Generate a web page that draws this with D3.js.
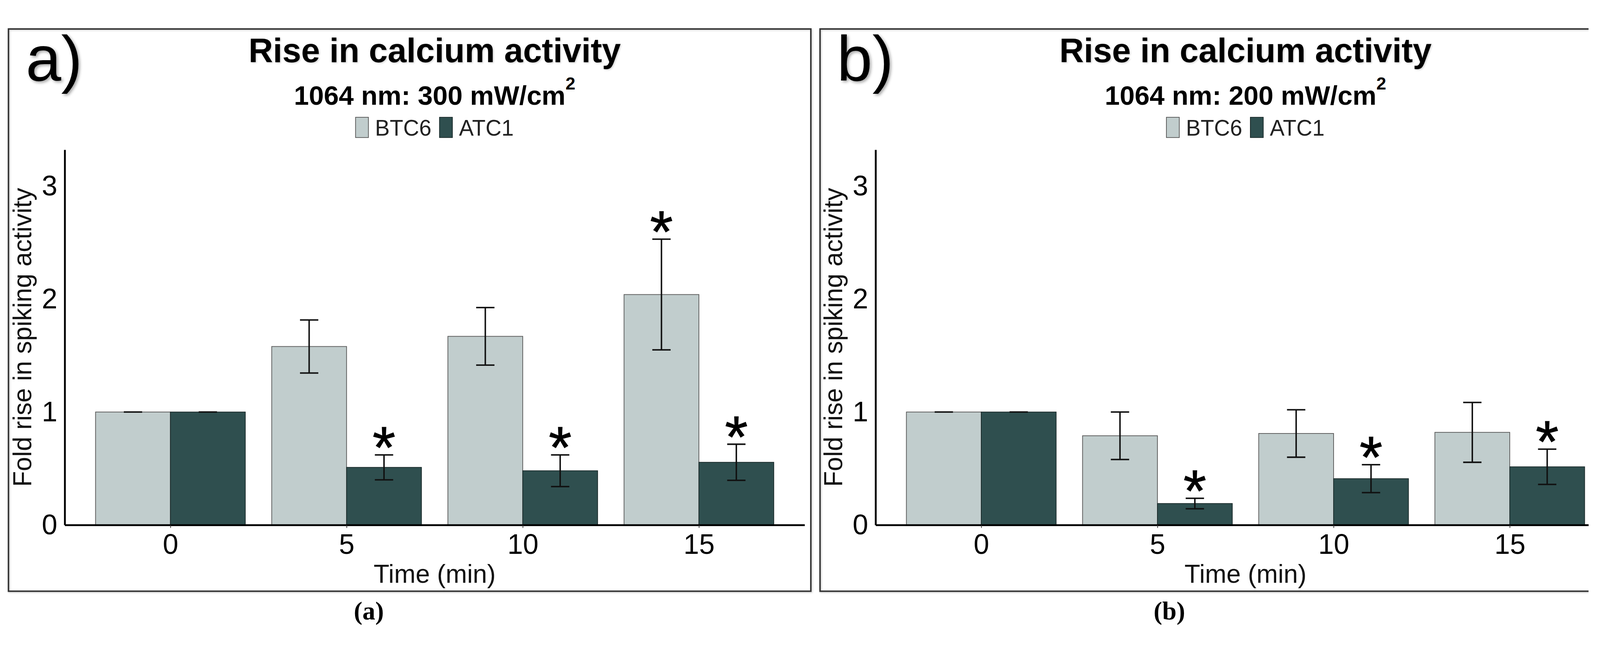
<!DOCTYPE html>
<html>
<head>
<meta charset="utf-8">
<script src="https://cdn.jsdelivr.net/npm/d3@7"></script>
<style>
  html, body { margin: 0; padding: 0; background: #fff; overflow: hidden; }
  svg { display: block; width: 100vw; height: 100vh; font-family: "Liberation Sans", Arial, sans-serif; }
</style>
</head>
<body>
<svg id="chart" viewBox="0 0 4351 1663" preserveAspectRatio="xMidYMid meet"></svg>
<script>
// values
const categories = ['0', '5', '10', '15'];
const seriesNames = ['BTC6', 'ATC1'];
const seriesColors = ['#C1CDCD', '#2F4F4F'];
const yTickValues = [0, 1, 2, 3];

// panel a: 300 mW/cm2
const aBtc6 = [1.00, 1.58, 1.67, 2.04];
const aBtc6Err = [0, 0.235, 0.255, 0.49];
const aAtc1 = [1.00, 0.51, 0.48, 0.555];
const aAtc1Err = [0, 0.11, 0.14, 0.16];
const aBtc6Star = [false, false, false, true];
const aAtc1Star = [false, true, true, true];

// panel b: 200 mW/cm2
const bBtc6 = [1.00, 0.79, 0.81, 0.82];
const bBtc6Err = [0, 0.21, 0.21, 0.265];
const bAtc1 = [1.00, 0.19, 0.41, 0.515];
const bAtc1Err = [0, 0.046, 0.124, 0.156];
const bBtc6Star = [false, false, false, false];
const bAtc1Star = [false, true, true, true];

const panels = [
  { letter: 'a)', caption: '(a)', power: '300', left: 23, right: 2205, closed: true,
    axisX: 176, letterX: 70, captionX: 1003,
    values: [aBtc6, aAtc1], errs: [aBtc6Err, aAtc1Err], stars: [aBtc6Star, aAtc1Star] },
  { letter: 'b)', caption: '(b)', power: '200', left: 2230, right: 4320, closed: false,
    axisX: 2381, letterX: 2276, captionX: 3180,
    values: [bBtc6, bAtc1], errs: [bBtc6Err, bAtc1Err], stars: [bBtc6Star, bAtc1Star] }
];

const frameTop = 27, frameBottom = 1555;
const plotW = 2012, yZero = 1375, yTop = 355;
const starSize = 160;

const svg = d3.select('#chart');
const defs = svg.append('defs');
defs.append('filter').attr('id', 'shadow')
  .attr('x', '-20%').attr('y', '-20%').attr('width', '140%').attr('height', '140%')
  .append('feDropShadow')
  .attr('dx', 4).attr('dy', 4).attr('stdDeviation', 4)
  .attr('flood-color', '#000').attr('flood-opacity', 0.35);
defs.append('filter').attr('id', 'soft')
  .append('feDropShadow')
  .attr('dx', 2).attr('dy', 2).attr('stdDeviation', 2)
  .attr('flood-color', '#000').attr('flood-opacity', 0.2);

panels.forEach((p, pi) => {
  defs.append('clipPath').attr('id', 'clip' + pi)
    .append('rect')
    .attr('x', p.left - 10).attr('y', 0)
    .attr('width', p.right - p.left + (p.closed ? 20 : 10)).attr('height', 1663);

  const g = svg.append('g').attr('clip-path', `url(#clip${pi})`);

  // outer frame
  const frame = g.append('g').attr('stroke', '#333').attr('stroke-width', 4)
    .attr('fill', 'none').attr('filter', 'url(#soft)');
  if (p.closed) {
    frame.append('rect').attr('x', p.left).attr('y', frameTop)
      .attr('width', p.right - p.left).attr('height', frameBottom - frameTop);
  } else {
    frame.append('path')
      .attr('d', `M${p.right},${frameTop}H${p.left}V${frameBottom}H${p.right}`);
  }

  const x = d3.scalePoint().domain(categories)
    .range([p.axisX, p.axisX + plotW]).padding(0.6);
  const step = x.step();
  const sub = d3.scaleBand().domain(seriesNames)
    .range([-0.425 * step, 0.425 * step]);
  const y = d3.scaleLinear().domain([0, 3]).range([yZero, yZero - 3 * 307]);
  const yMax = y.invert(yTop);
  y.domain([0, yMax]).range([yZero, yTop]);

  const cx = p.axisX + plotW / 2;

  // bars
  seriesNames.forEach((s, si) => {
    g.append('g').selectAll('rect')
      .data(categories)
      .join('rect')
      .attr('x', c => x(c) + sub(s))
      .attr('y', (c, i) => y(p.values[si][i]))
      .attr('width', sub.bandwidth())
      .attr('height', (c, i) => y(0) - y(p.values[si][i]))
      .attr('fill', seriesColors[si])
      .attr('stroke', si === 0 ? '#5a5a5a' : '#1b2b2b')
      .attr('stroke-width', 2);
  });

  // error bars + significance stars
  const capW = 0.052 * step;
  seriesNames.forEach((s, si) => {
    const eg = g.append('g').attr('stroke', '#111').attr('stroke-width', 4).attr('fill', 'none');
    categories.forEach((c, i) => {
      const mx = x(c) + sub(s) + sub.bandwidth() / 2;
      const v = p.values[si][i], e = p.errs[si][i];
      const y1 = y(v + e), y2 = y(v - e);
      eg.append('path')
        .attr('d', `M${mx - capW},${y1}H${mx + capW}M${mx},${y1}V${y2}M${mx - capW},${y2}H${mx + capW}`);
      if (p.stars[si][i]) {
        g.append('text')
          .attr('x', mx).attr('y', y1 - 16 + 0.32 * starSize)
          .attr('text-anchor', 'middle')
          .attr('font-size', starSize)
          .attr('fill', '#000').attr('stroke', '#000').attr('stroke-width', 1.5)
          .text('*');
      }
    });
  });

  // axes
  const yAxis = g.append('g')
    .attr('transform', `translate(${p.axisX},0)`)
    .call(d3.axisLeft(y).tickValues(yTickValues).tickFormat(d3.format('d'))
      .tickSize(0).tickPadding(20));
  yAxis.select('.domain').attr('stroke', '#000').attr('stroke-width', 5);
  yAxis.selectAll('text').attr('font-size', 76).attr('fill', '#000')
    .attr('font-family', '"Liberation Sans", Arial, sans-serif');

  const xAxis = g.append('g')
    .attr('transform', `translate(0,${yZero})`)
    .call(d3.axisBottom(x).tickSize(8).tickSizeOuter(0).tickPadding(16));
  xAxis.select('.domain').attr('stroke', '#000').attr('stroke-width', 5);
  xAxis.selectAll('.tick line').attr('stroke', '#333').attr('stroke-width', 2);
  xAxis.selectAll('text').attr('font-size', 76).attr('fill', '#000')
    .attr('font-family', '"Liberation Sans", Arial, sans-serif');

  // axis titles
  g.append('text')
    .attr('transform', `translate(${p.axisX - 91},${(yZero + yTop) / 2}) rotate(-90)`)
    .attr('text-anchor', 'middle')
    .attr('font-size', 70).attr('fill', '#111')
    .text('Fold rise in spiking activity');
  g.append('text')
    .attr('x', cx).attr('y', 1532)
    .attr('text-anchor', 'middle')
    .attr('font-size', 70).attr('fill', '#111')
    .text('Time (min)');

  // titles
  g.append('text')
    .attr('x', cx).attr('y', 117)
    .attr('text-anchor', 'middle')
    .attr('font-size', 92).attr('font-weight', 'bold')
    .attr('filter', 'url(#soft)')
    .text('Rise in calcium activity');
  const sub2 = g.append('text')
    .attr('x', cx).attr('y', 233)
    .attr('text-anchor', 'middle')
    .attr('font-size', 73).attr('font-weight', 'bold');
  sub2.append('tspan').text(`1064 nm: ${p.power} mW/cm`);
  sub2.append('tspan').attr('dy', -42).attr('font-size', 48).text('2');

  // legend
  const lg = g.append('g');
  let lx = 0;
  seriesNames.forEach((s, si) => {
    lg.append('rect')
      .attr('x', lx).attr('y', 267).attr('width', 35).attr('height', 55)
      .attr('fill', seriesColors[si])
      .attr('stroke', si === 0 ? '#5a5a5a' : '#1b2b2b').attr('stroke-width', 2);
    lx += 35 + 18;
    const t = lg.append('text')
      .attr('x', lx).attr('y', 317)
      .attr('font-size', 60).attr('fill', '#222')
      .text(s);
    lx += t.node().getComputedTextLength() + 22;
  });
  lx -= 22;
  lg.attr('transform', `translate(${cx - lx / 2},0)`);

  // panel letter
  g.append('text')
    .attr('x', p.letterX).attr('y', 167)
    .attr('font-size', 173)
    .attr('fill', '#000')
    .attr('filter', 'url(#shadow)')
    .text(p.letter);

  // caption below frame
  svg.append('text')
    .attr('x', p.captionX).attr('y', 1632)
    .attr('text-anchor', 'middle')
    .attr('font-family', '"Liberation Serif", "Times New Roman", serif')
    .attr('font-weight', 'bold')
    .attr('font-size', 70)
    .text(p.caption);
});
</script>
</body>
</html>
